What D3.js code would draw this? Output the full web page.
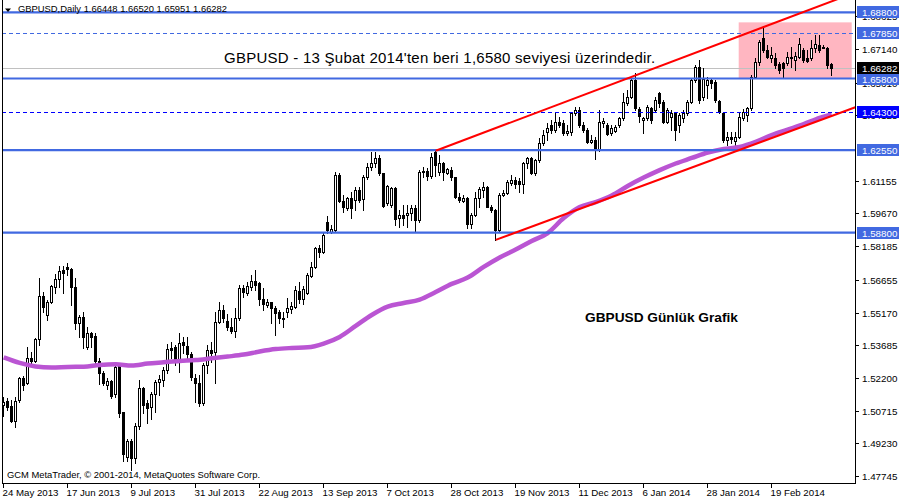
<!DOCTYPE html>
<html><head><meta charset="utf-8">
<script src="https://cdn.jsdelivr.net/npm/d3@7"></script>
<style>body{margin:0;background:#fff}svg{display:block}text{font-family:"Liberation Sans",Arial,sans-serif}</style>
</head><body><svg id="c" width="900" height="500"></svg>
<script>
// ---- data ----
const tickIdx = [0,16,32,48,64,80,96,112,128,144,160,176,192];
const tickLabels = ["24 May 2013","17 Jun 2013","9 Jul 2013","31 Jul 2013","22 Aug 2013","13 Sep 2013","7 Oct 2013","28 Oct 2013","19 Nov 2013","11 Dec 2013","6 Jan 2014","28 Jan 2014","19 Feb 2014"];

const open = [1.5097,1.5117,1.5093,1.5026,1.5120,1.5220,1.5197,1.5311,1.5298,1.5397,
1.5592,1.5506,1.5565,1.5634,1.5668,1.5710,1.5722,1.5715,1.5633,1.5471,
1.5497,1.5362,1.5424,1.5410,1.5298,1.5244,1.5189,1.5206,1.5146,1.5286,
1.5064,1.4859,1.4935,1.4855,1.5002,1.5173,1.5105,1.5087,1.5146,1.5200,
1.5211,1.5256,1.5356,1.5359,1.5301,1.5382,1.5366,1.5327,1.5221,1.5196,
1.5105,1.5279,1.5347,1.5336,1.5475,1.5529,1.5479,1.5453,1.5435,1.5491,
1.5630,1.5607,1.5634,1.5660,1.5653,1.5577,1.5553,1.5564,1.5539,1.5519,
1.5494,1.5521,1.5532,1.5544,1.5616,1.5577,1.5607,1.5683,1.5725,1.5812,
1.5793,1.5930,1.5884,1.5892,1.6142,1.6024,1.5993,1.6036,1.6028,1.6074,
1.6031,1.6134,1.6177,1.6195,1.6218,1.6149,1.6013,1.6005,1.6081,1.5945,
1.5960,1.5960,1.5970,1.5990,1.5937,1.6157,1.6161,1.6137,1.6248,1.6157,
1.6195,1.6152,1.6164,1.6134,1.6043,1.6025,1.6036,1.5919,1.5960,1.6036,
1.6074,1.6086,1.5998,1.5983,1.5892,1.6051,1.6059,1.6107,1.6119,1.6116,
1.6101,1.6195,1.6218,1.6149,1.6210,1.6286,1.6338,1.6369,1.6346,1.6384,
1.6376,1.6334,1.6338,1.6422,1.6437,1.6369,1.6346,1.6293,1.6301,1.6255,
1.6376,1.6369,1.6331,1.6343,1.6369,1.6399,1.6467,1.6497,1.6573,1.6440,
1.6392,1.6399,1.6445,1.6437,1.6513,1.6475,1.6384,1.6406,1.6422,1.6369,
1.6399,1.6422,1.6475,1.6573,1.6634,1.6496,1.6551,1.6573,1.6564,1.6478,
1.6423,1.6301,1.6314,1.6296,1.6314,1.6401,1.6414,1.6446,1.6587,1.6655,
1.6764,1.6709,1.6673,1.6673,1.6646,1.6650,1.6650,1.6673,1.6664,1.6678,
1.6709,1.6673,1.6673,1.6719,1.6732,1.6725,1.6719,1.66448];

const high = [1.5135,1.5129,1.5120,1.5135,1.5226,1.5229,1.5362,1.5339,1.5401,1.5674,
1.5612,1.5574,1.5642,1.5692,1.5728,1.5728,1.5741,1.5718,1.5672,1.5506,
1.5521,1.5453,1.5430,1.5423,1.5309,1.5251,1.5218,1.5211,1.5286,1.5288,
1.5067,1.4941,1.4941,1.5014,1.5211,1.5180,1.5120,1.5157,1.5211,1.5233,
1.5270,1.5374,1.5383,1.5370,1.5424,1.5406,1.5405,1.5339,1.5238,1.5233,
1.5286,1.5370,1.5382,1.5519,1.5563,1.5551,1.5510,1.5491,1.5536,1.5642,
1.5642,1.5657,1.5688,1.5710,1.5657,1.5627,1.5577,1.5566,1.5547,1.5529,
1.5521,1.5582,1.5566,1.5638,1.5657,1.5638,1.5695,1.5748,1.5816,1.5824,
1.5877,1.5955,1.5915,1.6157,1.6149,1.6051,1.6043,1.6066,1.6089,1.6089,
1.6142,1.6195,1.6248,1.6248,1.6233,1.6152,1.6096,1.6089,1.6089,1.5983,
1.6005,1.6005,1.6005,1.6005,1.6164,1.6179,1.6172,1.6240,1.6252,1.6233,
1.6202,1.6174,1.6179,1.6134,1.6059,1.6051,1.6043,1.5968,1.6066,1.6089,
1.6111,1.6092,1.6005,1.5987,1.6059,1.6074,1.6119,1.6142,1.6134,1.6127,
1.6202,1.6225,1.6225,1.6213,1.6308,1.6346,1.6376,1.6392,1.6429,1.6406,
1.6392,1.6369,1.6429,1.6452,1.6452,1.6384,1.6354,1.6323,1.6316,1.6437,
1.6399,1.6376,1.6369,1.6369,1.6406,1.6513,1.6528,1.6581,1.6605,1.6450,
1.6406,1.6460,1.6452,1.6497,1.6520,1.6482,1.6446,1.6437,1.6429,1.6422,
1.6437,1.6482,1.6581,1.6641,1.6664,1.6628,1.6587,1.6582,1.6573,1.6482,
1.6428,1.6337,1.6337,1.6337,1.6423,1.6441,1.6451,1.6596,1.6673,1.6755,
1.6814,1.6732,1.6723,1.6696,1.6655,1.6655,1.6700,1.6723,1.6700,1.6764,
1.6719,1.6709,1.6755,1.6778,1.6778,1.6732,1.6723,1.66520];

const low = [1.5048,1.5074,1.5021,1.4996,1.5112,1.5165,1.5192,1.5279,1.5294,1.5370,
1.5521,1.5483,1.5559,1.5604,1.5634,1.5606,1.5688,1.5551,1.5441,1.5405,
1.5355,1.5350,1.5362,1.5279,1.5191,1.5188,1.5168,1.5127,1.5135,1.5044,
1.4844,1.4844,1.4802,1.4832,1.4987,1.5062,1.5014,1.5032,1.5067,1.5142,
1.5183,1.5244,1.5311,1.5279,1.5248,1.5333,1.5301,1.5211,1.5112,1.5093,
1.5097,1.5244,1.5294,1.5196,1.5468,1.5475,1.5438,1.5423,1.5407,1.5483,
1.5589,1.5597,1.5619,1.5619,1.5551,1.5529,1.5544,1.5471,1.5415,1.5468,
1.5450,1.5498,1.5514,1.5536,1.5559,1.5556,1.5601,1.5680,1.5718,1.5771,
1.5786,1.5877,1.5877,1.5884,1.6020,1.5975,1.5983,1.5945,1.5983,1.6020,
1.5983,1.6122,1.6164,1.6177,1.6142,1.5998,1.6005,1.5998,1.5915,1.5907,
1.5915,1.5907,1.5937,1.5884,1.5930,1.6134,1.6119,1.6127,1.6135,1.6142,
1.6119,1.6146,1.6119,1.6036,1.6020,1.6020,1.5900,1.5900,1.5955,1.5998,
1.6043,1.5995,1.5975,1.5847,1.5884,1.6046,1.6055,1.6096,1.6081,1.6066,
1.6059,1.6172,1.6146,1.6142,1.6202,1.6278,1.6301,1.6331,1.6338,1.6361,
1.6323,1.6323,1.6323,1.6414,1.6361,1.6338,1.6286,1.6286,1.6213,1.6252,
1.6361,1.6323,1.6323,1.6338,1.6361,1.6392,1.6460,1.6490,1.6437,1.6384,
1.6331,1.6392,1.6377,1.6429,1.6452,1.6377,1.6377,1.6346,1.6301,1.6338,
1.6384,1.6414,1.6467,1.6566,1.6467,1.6482,1.6491,1.6537,1.6473,1.6423,
1.6292,1.6278,1.6287,1.6278,1.6310,1.6392,1.6387,1.6437,1.6582,1.6641,
1.6700,1.6673,1.6655,1.6628,1.6605,1.6582,1.6641,1.6632,1.6619,1.6673,
1.6655,1.6655,1.6664,1.6700,1.6700,1.6717,1.6628,1.65951];

const close = [1.5112,1.5089,1.5026,1.5117,1.5220,1.5188,1.5311,1.5298,1.5397,1.5592,
1.5544,1.5565,1.5638,1.5669,1.5707,1.5697,1.5713,1.5632,1.5471,1.5497,
1.5407,1.5424,1.5407,1.5298,1.5244,1.5198,1.5206,1.5139,1.5268,1.5059,
1.4874,1.4935,1.4855,1.5002,1.5173,1.5097,1.5085,1.5146,1.5200,1.5214,
1.5256,1.5350,1.5347,1.5301,1.5377,1.5371,1.5329,1.5226,1.5196,1.5108,
1.5277,1.5347,1.5335,1.5475,1.5529,1.5491,1.5450,1.5435,1.5491,1.5630,
1.5612,1.5638,1.5660,1.5642,1.5577,1.5556,1.5565,1.5536,1.5516,1.5491,
1.5489,1.5536,1.5547,1.5619,1.5577,1.5623,1.5688,1.5725,1.5810,1.5793,
1.5869,1.5892,1.5896,1.6142,1.6024,1.5995,1.6036,1.5993,1.6074,1.6028,
1.6134,1.6179,1.6195,1.6218,1.6149,1.6001,1.6092,1.6081,1.5941,1.5960,
1.5945,1.5970,1.5990,1.5937,1.6157,1.6161,1.6137,1.6225,1.6187,1.6195,
1.6157,1.6168,1.6131,1.6043,1.6028,1.6036,1.5919,1.5960,1.6036,1.6077,
1.6089,1.5998,1.5983,1.5892,1.6051,1.6061,1.6111,1.6119,1.6101,1.6101,
1.6195,1.6218,1.6149,1.6210,1.6286,1.6323,1.6354,1.6346,1.6384,1.6369,
1.6331,1.6343,1.6422,1.6437,1.6369,1.6346,1.6293,1.6301,1.6255,1.6384,
1.6387,1.6328,1.6354,1.6361,1.6399,1.6475,1.6497,1.6573,1.6445,1.6410,
1.6399,1.6452,1.6392,1.6482,1.6467,1.6384,1.6437,1.6422,1.6346,1.6414,
1.6422,1.6475,1.6573,1.6634,1.6482,1.6578,1.6573,1.6560,1.6482,1.6428,
1.6301,1.6314,1.6305,1.6314,1.6405,1.6428,1.6446,1.6587,1.6655,1.6746,
1.6709,1.6678,1.6687,1.6641,1.6619,1.6628,1.6678,1.6678,1.6682,1.6737,
1.6664,1.6660,1.6719,1.6737,1.6709,1.6720,1.6641,1.66282];

const maIdx = [0,4,8,12,16,20,24,28,32,36,40,44,48,52,56,60,64,68,72,76,80,84,88,92,96,100,104,108,112,116,120,124,128,132,136,140,144,148,152,156,160,164,168,172,176,180,184,188,192,196,200,204,207];
const maVal = [1.5313,1.5288,1.5272,1.5267,1.5270,1.5271,1.5279,1.5282,1.5276,1.5285,1.5291,1.5297,1.5301,1.5309,1.5317,1.5326,1.5340,1.5351,1.5356,1.5359,1.5376,1.5406,1.5456,1.5506,1.5544,1.5560,1.5576,1.5610,1.5647,1.5676,1.5724,1.5767,1.5803,1.5842,1.5878,1.5946,1.5996,1.6019,1.6049,1.6092,1.6130,1.6164,1.6194,1.6219,1.6244,1.6260,1.6269,1.6292,1.6323,1.6348,1.6373,1.6401,1.6417];

const priceTicks = [1.68625,1.67140,1.65610,1.64125,1.61155,1.59670,1.58185,1.56655,1.55170,1.53685,1.52200,1.50715,1.49230,1.47745];
const solidLevels = [1.68800,1.65800,1.62550,1.58800];
const dashedLevels = [1.67850,1.64300];
const dashedColors = ["#4169E1","#0000FF"];
const trendI1 = [108,123], trendP1 = [1.6252,1.5847], trendI2 = [190,207], trendP2 = [1.6814,1.6410];
const zoneIdx = [184,212], zonePrice = [1.6835,1.6580];
const bid = 1.66282;
const headerText = "GBPUSD,Daily  1.66448 1.66520 1.65951 1.66282";
const noteText = "GBPUSD - 13 Şubat 2014'ten beri 1,6580 seviyesi üzerindedir.";
const titleText = "GBPUSD Günlük Grafik";
const copyText = "GCM MetaTrader, © 2001-2014, MetaQuotes Software Corp.";

// ---- drawing ----
const svg = d3.select("#c");
const L = 2, R = 855, T = 0, B = 483;
const x = d3.scaleLinear().domain([0, 207]).range([3.7, 831.7]);
const y = d3.scaleLinear().domain([1.47427, 1.69366]).range([B, T]);
const ROYAL = "#4169E1";

svg.append("rect").attr("width",900).attr("height",500).attr("fill","#fff");
const defs = svg.append("defs");
defs.append("clipPath").attr("id","clip")
  .append("rect").attr("x",L).attr("y",T).attr("width",R-L).attr("height",B-T);
const plot = svg.append("g").attr("clip-path","url(#clip)");

// pink zone
plot.append("rect")
  .attr("x", x(zoneIdx[0]) - 1).attr("width", x(zoneIdx[1]) - x(zoneIdx[0]) + 1)
  .attr("y", y(zonePrice[0])).attr("height", y(zonePrice[1]) - y(zonePrice[0]))
  .attr("fill", "#FFB6C1");

// bid line
plot.append("line").attr("x1",L).attr("x2",R)
  .attr("y1", Math.round(y(bid))+0.5).attr("y2", Math.round(y(bid))+0.5)
  .attr("stroke","#C0C0C0").attr("stroke-width",1);

// candles
const bars = d3.range(open.length).map(i => ({i, o:open[i], h:Math.max(high[i],open[i],close[i]), l:Math.min(low[i],open[i],close[i]), c:close[i]}));
const cg = plot.append("g").attr("shape-rendering","crispEdges");
bars.forEach(d => {
  const cx = Math.floor(x(d.i));
  const yh = Math.round(y(d.h)), yl = Math.round(y(d.l));
  cg.append("rect").attr("x",cx).attr("width",1).attr("y",yh).attr("height",Math.max(1,yl-yh+1)).attr("fill","#000");
  const top = Math.round(y(Math.max(d.o,d.c))), bot = Math.round(y(Math.min(d.o,d.c)));
  if (d.c >= d.o) {
    if (bot - top < 1) {
      cg.append("rect").attr("x",cx-1).attr("width",3).attr("y",top).attr("height",1).attr("fill","#000");
    } else {
      cg.append("rect").attr("x",cx-0.5).attr("width",2).attr("y",top+0.5).attr("height",bot-top)
        .attr("fill","#fff").attr("stroke","#000").attr("stroke-width",1);
    }
  } else {
    cg.append("rect").attr("x",cx-1).attr("width",3).attr("y",top).attr("height",Math.max(1,bot-top+1)).attr("fill","#000");
  }
});

// moving average
const maPts = maIdx.map((i,k)=>({i, v:maVal[k]}));
plot.append("path").datum(maPts)
  .attr("d", d3.line().x(d=>x(d.i)).y(d=>y(d.v)).curve(d3.curveMonotoneX))
  .attr("fill","none").attr("stroke","#BA55D3").attr("stroke-width",4.5).attr("stroke-linejoin","round");

// horizontal levels
solidLevels.forEach(v => {
  plot.append("line").attr("x1",L).attr("x2",R).attr("y1",y(v)).attr("y2",y(v))
    .attr("stroke",ROYAL).attr("stroke-width",2.2);
});
dashedLevels.forEach((v,k) => {
  plot.append("line").attr("x1",L).attr("x2",R).attr("y1",Math.round(y(v))+0.5).attr("y2",Math.round(y(v))+0.5)
    .attr("stroke",dashedColors[k]).attr("stroke-width",1).attr("stroke-dasharray","4,3");
});

// trend lines (rays)
const iEnd = x.invert(R + 2);
trendI1.forEach((i1,k) => {
  const slope = (trendP2[k]-trendP1[k])/(trendI2[k]-i1);
  plot.append("line")
    .attr("x1", x(i1)).attr("y1", y(trendP1[k]))
    .attr("x2", x(iEnd)).attr("y2", y(trendP1[k] + slope*(iEnd-i1)))
    .attr("stroke","#FF0000").attr("stroke-width",2);
});

// texts in plot
plot.append("text").attr("x",224).attr("y",63).attr("font-size",15).attr("letter-spacing",0.25).attr("fill","#000").text(noteText);
plot.append("text").attr("x",585).attr("y",322).attr("font-size",13.7).attr("font-weight","bold").attr("fill","#000").text(titleText);
svg.append("path").attr("d","M5,8.5L11,8.5L8,12Z").attr("fill","#000");
svg.append("text").attr("x",18).attr("y",12).attr("font-size",9.4).attr("fill","#000").text(headerText);
svg.append("text").attr("x",7).attr("y",478).attr("font-size",9.4).attr("fill","#000").text(copyText);

// frame
const fg = svg.append("g").attr("shape-rendering","crispEdges");
fg.append("line").attr("x1",L+0.5).attr("x2",L+0.5).attr("y1",0).attr("y2",B+1).attr("stroke","#000");
fg.append("line").attr("x1",R+0.5).attr("x2",R+0.5).attr("y1",0).attr("y2",B+1).attr("stroke","#000");
fg.append("line").attr("x1",L).attr("x2",R+1).attr("y1",B+0.5).attr("y2",B+0.5).attr("stroke","#000");

// bottom axis
tickIdx.forEach((i,k) => {
  const px = Math.floor(x(i)) + 0.5;
  fg.append("line").attr("x1",px).attr("x2",px).attr("y1",B).attr("y2",B+5).attr("stroke","#000");
  svg.append("text").attr("x",px-1).attr("y",496).attr("font-size",9.7).attr("fill","#000").text(tickLabels[k]);
});

// label boxes (computed first so scale labels can be clipped below them)
const boxes = solidLevels.map(v=>({v, bg:ROYAL}))
  .concat(dashedLevels.map((v,k)=>({v, bg:dashedColors[k]})))
  .concat([{v:bid, bg:"#000"}]);

// right axis ticks; a label partly covered by a level box only shows its uncovered part
priceTicks.forEach((v,n) => {
  const py = Math.round(y(v)) + 0.5;
  fg.append("line").attr("x1",R).attr("x2",R+4).attr("y1",py).attr("y2",py).attr("stroke","#000");
  const cover = boxes.find(b => Math.abs(Math.round(y(b.v)) - py) < 12);
  const t = svg.append("text").attr("x",862).attr("y",py+3.5).attr("font-size",9.8).attr("fill","#000").text(v.toFixed(5));
  if (cover) {
    const by = Math.round(y(cover.v));
    const cid = "lc" + n;
    const cy0 = py > by ? by + 6 : py - 8, cy1 = py > by ? py + 6 : by - 6;
    defs.append("clipPath").attr("id",cid).append("rect").attr("x",856).attr("y",cy0).attr("width",44).attr("height",Math.max(0,cy1-cy0));
    t.attr("clip-path","url(#"+cid+")");
  }
});

boxes.forEach(b => {
  const py = Math.round(y(b.v));
  svg.append("rect").attr("x",857).attr("y",py-6).attr("width",42).attr("height",12).attr("fill",b.bg);
  svg.append("text").attr("x",862).attr("y",py+4).attr("font-size",9.8).attr("fill","#fff").text(b.v.toFixed(5));
});
</script></body></html>
